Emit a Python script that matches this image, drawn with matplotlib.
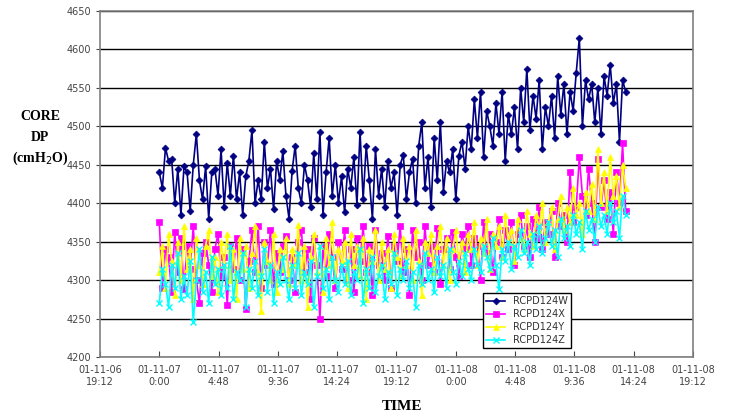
import numpy as np
import pandas as pd
import matplotlib
matplotlib.use("Agg")
import matplotlib.pyplot as plt
import matplotlib.dates as mdates
from matplotlib.ticker import FuncFormatter, MultipleLocator

# 15-minute samples, 2001-11-07 00:00 to 2001-11-08 13:45
times = pd.date_range("2001-11-07 00:00", periods=152, freq="15min")

rcpd_w = [4440, 4420, 4472, 4455, 4458, 4400, 4445, 4385, 4448, 4440, 4390, 4450, 4490, 4430, 4405, 4448, 4380, 4440, 4445, 4410, 4470,
          4395, 4452, 4410, 4462, 4405, 4440, 4385, 4435, 4455, 4495, 4400, 4430, 4405, 4480, 4420, 4445, 4392, 4455, 4430, 4468,
          4410, 4380, 4442, 4475, 4420, 4400, 4450, 4430, 4395, 4465, 4405, 4492, 4385, 4440, 4485, 4410, 4450, 4400, 4435, 4388,
          4445, 4420, 4460, 4398, 4493, 4405, 4475, 4430, 4380, 4470, 4410, 4445, 4395, 4455, 4420, 4440, 4385, 4450, 4463, 4405,
          4440, 4458, 4400, 4475, 4505, 4420, 4460, 4395, 4485, 4430, 4505, 4415, 4455, 4440, 4470, 4405, 4462, 4480, 4445, 4500,
          4470, 4535, 4485, 4545, 4460, 4520, 4500, 4475, 4530, 4490, 4545, 4455, 4515, 4490, 4525, 4470, 4550, 4505, 4575, 4495,
          4540, 4510, 4560, 4470, 4525, 4500, 4540, 4485, 4565, 4515, 4555, 4490, 4545, 4520, 4570, 4615, 4500, 4560, 4535, 4555,
          4505, 4550, 4490, 4565, 4540, 4580, 4530, 4555, 4480, 4560, 4545]

rcpd_x = [4375, 4290, 4340, 4330, 4285, 4362, 4310, 4355, 4288, 4345, 4315, 4370, 4300, 4270, 4335, 4350, 4320, 4285, 4340, 4360, 4305,
          4330, 4268, 4345, 4315, 4355, 4300, 4340, 4262, 4325, 4365, 4310, 4370, 4290, 4350, 4320, 4365, 4295, 4335, 4310, 4345,
          4358, 4300, 4330, 4285, 4350, 4365, 4310, 4340, 4275, 4355, 4320, 4250, 4345, 4305, 4360, 4330, 4290, 4350, 4315, 4365,
          4300, 4340, 4285, 4355, 4325, 4370, 4310, 4345, 4280, 4365, 4320, 4335, 4300, 4358, 4290, 4345, 4325, 4370, 4310, 4340,
          4280, 4365, 4330, 4350, 4300, 4370, 4320, 4345, 4310, 4368, 4295, 4340, 4355, 4315, 4362, 4330, 4305, 4360, 4340, 4370,
          4320, 4355, 4345, 4300, 4375, 4335, 4360, 4310, 4350, 4380, 4330, 4365, 4340, 4375, 4320, 4360, 4385, 4345, 4370, 4330,
          4380, 4355, 4395, 4340, 4375, 4360, 4390, 4330, 4400, 4370, 4385, 4350, 4440, 4375, 4395, 4460, 4410, 4385, 4445, 4400,
          4350, 4458, 4395, 4430, 4380, 4415, 4360, 4440, 4400, 4478, 4390]

rcpd_y = [4310, 4345, 4290, 4360, 4325, 4280, 4350, 4300, 4370, 4315, 4340, 4275, 4355, 4320, 4295, 4345, 4365, 4305, 4330, 4285, 4350,
          4320, 4360, 4300, 4340, 4275, 4355, 4315, 4345, 4290, 4335, 4370, 4310, 4260, 4350, 4325, 4300, 4360, 4285, 4340, 4315,
          4355, 4295, 4340, 4320, 4372, 4300, 4345, 4265, 4330, 4360, 4310, 4345, 4285, 4355, 4320, 4375, 4300, 4340, 4325, 4350,
          4290, 4360, 4320, 4345, 4305, 4355, 4275, 4340, 4325, 4365, 4300, 4350, 4315, 4340, 4290, 4360, 4330, 4305, 4355, 4320,
          4345, 4300, 4365, 4325, 4280, 4350, 4335, 4360, 4310, 4345, 4370, 4320, 4355, 4300, 4340, 4365, 4325, 4350, 4310, 4360,
          4340, 4375, 4320, 4355, 4335, 4380, 4315, 4360, 4345, 4370, 4330, 4385, 4350, 4365, 4325, 4380, 4355, 4340, 4390, 4360,
          4345, 4385, 4365, 4400, 4350, 4375, 4395, 4340, 4380, 4410, 4365, 4395, 4375, 4420, 4385, 4400, 4360, 4415, 4390, 4425,
          4380, 4470, 4400, 4440, 4390, 4460, 4410, 4435, 4395, 4450, 4420]

rcpd_z = [4270, 4315, 4295, 4265, 4320, 4290, 4335, 4275, 4305, 4280, 4325, 4245, 4300, 4340, 4285, 4310, 4270, 4330, 4295, 4315, 4280,
          4320, 4290, 4345, 4275, 4310, 4300, 4335, 4265, 4315, 4290, 4325, 4280, 4305, 4340, 4285, 4320, 4270, 4310, 4295, 4330,
          4300, 4275, 4320, 4290, 4335, 4280, 4310, 4295, 4325, 4265, 4305, 4345, 4290, 4315, 4275, 4330, 4300, 4285, 4320, 4295,
          4325, 4280, 4310, 4300, 4340, 4270, 4315, 4290, 4330, 4285, 4305, 4320, 4275, 4310, 4295, 4335, 4280, 4315, 4300, 4325,
          4290, 4310, 4265, 4320, 4295, 4335, 4300, 4315, 4285, 4330, 4305, 4320, 4290, 4340, 4310, 4295, 4325, 4305, 4335, 4315,
          4300, 4340, 4320, 4310, 4345, 4330, 4315, 4355, 4320, 4288, 4340, 4325, 4350, 4315, 4345, 4330, 4365, 4335, 4350, 4320,
          4360, 4340, 4370, 4335, 4355, 4375, 4345, 4365, 4330, 4380, 4355, 4370, 4345, 4385, 4360, 4375, 4340, 4390, 4365, 4380,
          4350, 4395, 4370, 4385, 4360, 4400, 4375, 4390, 4355, 4410, 4385]

series = [
    ("RCPD124W", rcpd_w, "#000080", "D", 3.5),
    ("RCPD124X", rcpd_x, "#FF00FF", "s", 4.5),
    ("RCPD124Y", rcpd_y, "#FFFF00", "^", 5.0),
    ("RCPD124Z", rcpd_z, "#00FFFF", "x", 4.0),
]

fig = plt.figure(figsize=(7.31, 4.17), dpi=100)
ax = fig.add_axes([0.1368, 0.1439, 0.8112, 0.8297])

for name, vals, col, mk, ms in series:
    ax.plot(times, vals, color=col, lw=1.2, marker=mk, markersize=ms,
            markeredgewidth=1.0 if mk == "x" else 0.5, label=name)

ax.set_ylim(4200, 4650)
ax.yaxis.set_major_locator(MultipleLocator(50))
ax.grid(axis="y", color="black", lw=1.0)
ax.set_axisbelow(True)

x0 = pd.Timestamp("2001-11-06 19:12")
ticks = [x0 + pd.Timedelta(minutes=288 * k) for k in range(11)]
ax.set_xlim(mdates.date2num(ticks[0]), mdates.date2num(ticks[-1]))
ax.set_xticks([mdates.date2num(t) for t in ticks])


def fmt_time(v, pos):
    d = mdates.num2date(v)
    return f"{d:%y-%m-%d}\n{d.hour}:{d:%M}"


ax.xaxis.set_major_formatter(FuncFormatter(fmt_time))
ax.tick_params(axis="x", direction="in", length=4, labelsize=7, colors="#444444", pad=6)
ax.tick_params(axis="y", direction="out", length=3, labelsize=7, colors="#444444")
for s in ax.spines.values():
    s.set_color("#808080")
    s.set_linewidth(1.2)

fig.text(0.055, 0.72, "CORE", ha="center", va="center", family="Liberation Serif",
         fontweight="bold", fontsize=10)
fig.text(0.055, 0.67, "DP", ha="center", va="center", family="Liberation Serif",
         fontweight="bold", fontsize=10)
fig.text(0.055, 0.62, "(cmH$_2$O)", ha="center", va="center", family="Liberation Serif",
         fontweight="bold", fontsize=10)
fig.text(0.55, 0.025, "TIME", ha="center", va="center", family="Liberation Serif",
         fontweight="bold", fontsize=11)

leg = ax.legend(loc="lower left", bbox_to_anchor=(0.646, 0.026), fontsize=7,
                frameon=True, fancybox=False, framealpha=1, edgecolor="black",
                borderpad=0.3, labelspacing=0.3, handlelength=2.0, borderaxespad=0)
for t in leg.get_texts():
    t.set_color("#333333")

plt.savefig("out.png", dpi=100)
